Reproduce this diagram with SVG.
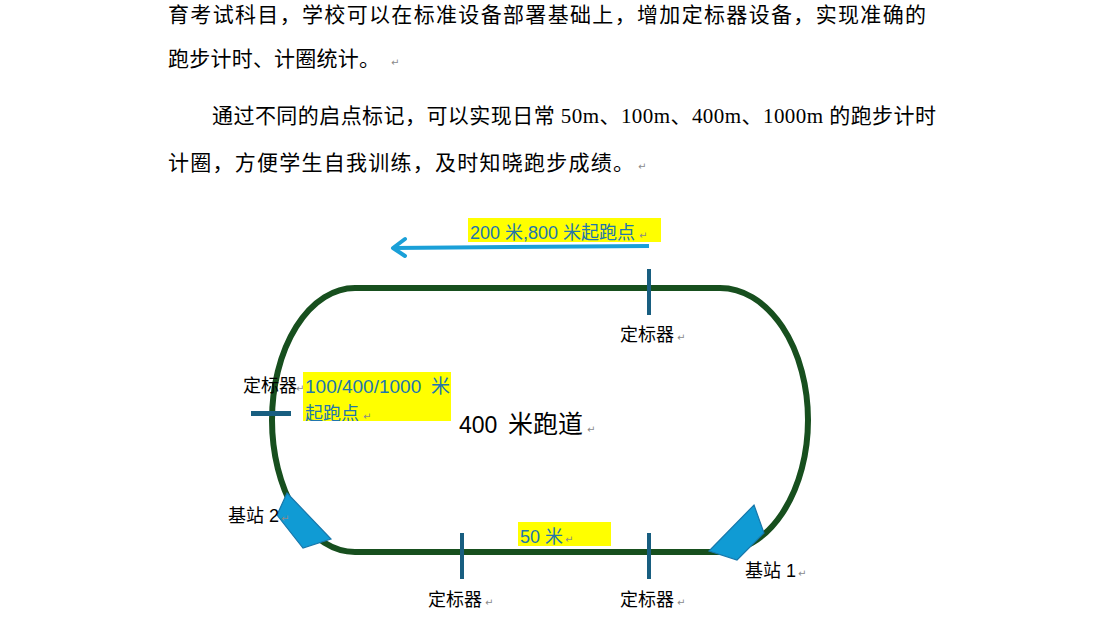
<svg xmlns="http://www.w3.org/2000/svg" width="1104" height="632" viewBox="0 0 1104 632">
<style>
.para{font-family:"Liberation Serif","Noto Sans CJK SC",serif;font-size:21px;fill:#000}
.lbl{font-family:"Liberation Sans","Noto Sans CJK SC",sans-serif;font-size:18px;fill:#000}
.big{font-family:"Liberation Sans","Noto Sans CJK SC",sans-serif;font-size:25px;fill:#000}
.hl{font-family:"Liberation Sans","Noto Sans CJK SC",sans-serif;font-size:18px;fill:#2176ae}
.hl19{font-family:"Liberation Sans","Noto Sans CJK SC",sans-serif;font-size:19px;fill:#2176ae}
.ret{font-family:"DejaVu Sans",sans-serif;font-size:10px;fill:#8a8a8a}
.mark{fill:#185e80}
.bs{fill:#109bd4;stroke:#1777ab;stroke-width:1.2}
.yb{fill:#ffff00}
</style>
<defs>
<clipPath id="clipL"><rect x="303" y="372" width="148" height="49"/></clipPath>
</defs>
<rect width="1104" height="632" fill="#fff"/>
<g id="paragraph">
<text class="para" x="168" y="22" textLength="758" lengthAdjust="spacing">育考试科目，学校可以在标准设备部署基础上，增加定标器设备，实现准确的</text>
<text class="para" x="168" y="66" textLength="212" lengthAdjust="spacing">跑步计时、计圈统计。</text><text class="ret" x="391" y="66">↵</text>
<text class="para" x="212" y="123" textLength="724" lengthAdjust="spacing">通过不同的启点标记，可以实现日常 50m、100m、400m、1000m 的跑步计时</text>
<text class="para" x="168" y="170" textLength="466" lengthAdjust="spacing">计圈，方便学生自我训练，及时知晓跑步成绩。</text><text class="ret" x="638" y="170">↵</text>
</g>
<g id="track">
<path d="M355,288 H720 A88,132 0 0 1 720,552 H355 A83,132 0 0 1 355,288 Z" fill="none" stroke="#174f1e" stroke-width="6"/>
<text class="big" x="459" y="433"><tspan font-size="23">400</tspan><tspan x="508">米跑道</tspan></text><text class="ret" x="587" y="433">↵</text>
</g>
<g id="connectors">
<path d="M649,246 L393,248" stroke="#1aa0d8" stroke-width="4" fill="none"/>
<path d="M405,239 L393,248 L405,256" stroke="#1aa0d8" stroke-width="4" fill="none" stroke-linecap="round" stroke-linejoin="round"/>
</g>
<g id="label-200-800">
<rect class="yb" x="468" y="218" width="193" height="24"/>
<text class="hl" x="470" y="239">200 米,800 米起跑点</text><text class="ret" x="639" y="239">↵</text>
</g>
<g id="marker-top">
<rect class="mark" x="647" y="269" width="4" height="46"/>
<text class="lbl" x="620" y="341">定标器</text><text class="ret" x="677" y="341">↵</text>
</g>
<g id="marker-left">
<rect class="mark" x="251" y="411" width="40" height="5"/>
<text class="lbl" x="243" y="392">定标器</text><text class="ret" x="296" y="392">↵</text>
</g>
<g id="label-100-400-1000">
<rect class="yb" x="303" y="372" width="148" height="49"/>
<g clip-path="url(#clipL)">
<text class="hl19" x="305" y="393">100/400/1000<tspan x="431">米</tspan></text>
<text class="hl" x="305" y="420">起跑点</text>
<text class="ret" x="363" y="420">↵</text>
</g>
</g>
<g id="marker-bottom-left">
<rect class="mark" x="460" y="533" width="4" height="46"/>
<text class="lbl" x="428" y="606">定标器</text><text class="ret" x="485" y="606">↵</text>
</g>
<g id="marker-bottom-right">
<rect class="mark" x="647" y="533" width="4" height="46"/>
<text class="lbl" x="620" y="606">定标器</text><text class="ret" x="677" y="606">↵</text>
</g>
<g id="label-50">
<rect class="yb" x="518" y="522" width="93" height="24"/>
<text class="hl" x="520" y="543">50 米</text><text class="ret" x="565" y="543">↵</text>
</g>
<g id="base-station-2">
<polygon class="bs" points="287,493 331,539 303,548 277,515"/>
<text class="lbl" x="228" y="522">基站 2</text><text class="ret" x="281" y="522">↵</text>
</g>
<g id="base-station-1">
<polygon class="bs" points="754,505 764,533 737,560 709,551"/>
<text class="lbl" x="745" y="577">基站 1</text><text class="ret" x="798" y="577">↵</text>
</g>
</svg>
